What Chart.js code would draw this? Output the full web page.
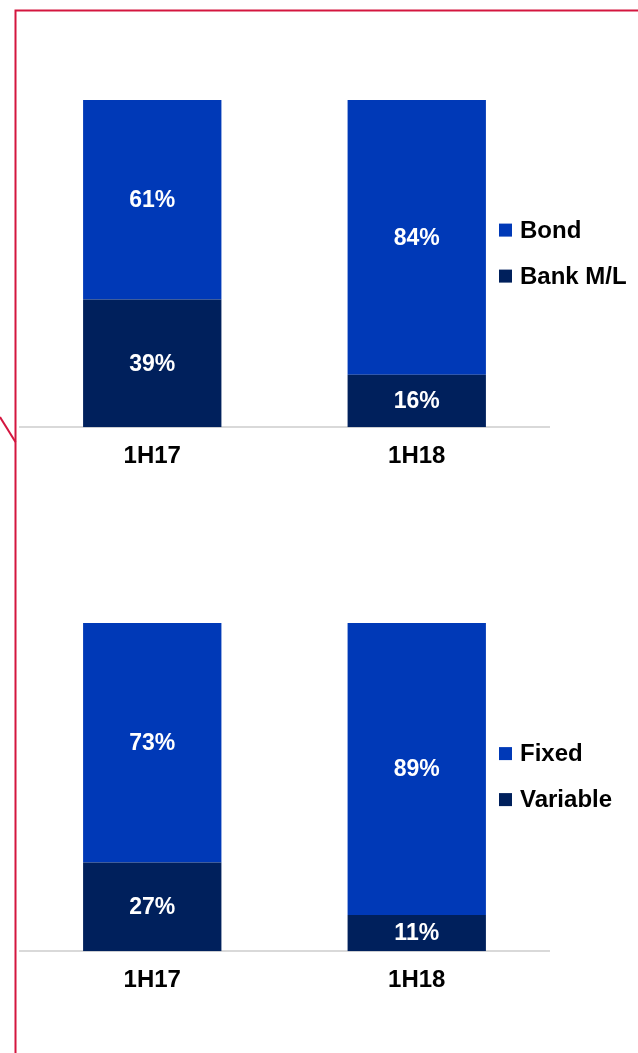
<!DOCTYPE html>
<html>
<head>
<meta charset="utf-8">
<script src="https://cdn.jsdelivr.net/npm/chart.js@4"></script>
<style>
    body { margin: 0; background: #fff; }
    .page { position: relative; width: 638px; height: 1053px; overflow: hidden; }
    .box { position: absolute; left: 0; width: 638px; }
    #frame { position: absolute; left: 0; top: 0; }
</style>
</head>
<body>
<div class="page">
    <svg id="frame" width="638" height="1053">
        <polyline points="638,10.5 15.5,10.5 15.5,1053" fill="none" stroke="#d4163f" stroke-width="2"/>
        <line x1="0" y1="417" x2="15.5" y2="442" stroke="#d4163f" stroke-width="2"/>
    </svg>
    <div class="box" style="top:0;height:520px"><canvas id="funding-chart"></canvas></div>
    <div class="box" style="top:520px;height:533px"><canvas id="rate-chart"></canvas></div>
</div>
<script>
const categories = ['1H17', '1H18'];

const bondShare = [61, 84];
const bankShare = [39, 16];

const fixedShare = [73, 89];
const variableShare = [27, 11];

const LIGHT = '#0039b7';
const DARK = '#00205c';
const FONT = 'Liberation Sans, Arial, sans-serif';

// white % labels centred in each stacked segment
const segmentLabels = {
    id: 'segmentLabels',
    afterDatasetsDraw(chart) {
        const ctx = chart.ctx;
        ctx.save();
        ctx.fillStyle = '#ffffff';
        ctx.font = 'bold 23px ' + FONT;
        ctx.textAlign = 'center';
        ctx.textBaseline = 'middle';
        chart.data.datasets.forEach((ds, i) => {
            chart.getDatasetMeta(i).data.forEach((bar, j) => {
                const mid = (bar.y + bar.base) / 2;
                ctx.fillText(ds.data[j] + '%', bar.x, mid + 1);
            });
        });
        ctx.restore();
    }
};

// legend sits partly over the plot area, so it is drawn by hand
const sideLegend = {
    id: 'sideLegend',
    afterDraw(chart) {
        const ctx = chart.ctx;
        const area = chart.chartArea;
        const items = chart.data.datasets.slice().reverse();
        const gap = 46;
        const startY = (area.top + area.bottom) / 2 - 10.5 - gap / 2;
        ctx.save();
        ctx.font = 'bold 24px ' + FONT;
        ctx.textBaseline = 'middle';
        ctx.textAlign = 'left';
        items.forEach((ds, i) => {
            const y = startY + i * gap;
            ctx.fillStyle = ds.backgroundColor;
            ctx.fillRect(499, y - 6.5, 13, 13);
            ctx.fillStyle = '#000000';
            ctx.fillText(ds.label, 520, y + 1);
        });
        ctx.restore();
    }
};

function createChart(canvasId, lower, upper, topPad, bottomPad) {
    const ctx = document.getElementById(canvasId).getContext('2d');

    return new Chart(ctx, {
        type: 'bar',
        data: {
            labels: categories,
            datasets: [
                { label: lower.label, data: lower.values, backgroundColor: DARK },
                { label: upper.label, data: upper.values, backgroundColor: LIGHT }
            ]
        },
        options: {
            responsive: true,
            maintainAspectRatio: false,
            animation: false,
            layout: {
                padding: { top: topPad, bottom: bottomPad, left: 20, right: 89 }
            },
            datasets: {
                bar: { barPercentage: 1, categoryPercentage: 0.523 }
            },
            scales: {
                x: {
                    stacked: true,
                    grid: { display: false },
                    border: { display: true, color: '#d9d9d9', width: 2 },
                    ticks: {
                        color: '#000000',
                        padding: 7,
                        font: { family: FONT, size: 24, weight: 'bold' }
                    }
                },
                y: {
                    stacked: true,
                    display: false,
                    min: 0,
                    max: 100
                }
            },
            plugins: {
                legend: { display: false },
                tooltip: { enabled: false }
            }
        },
        plugins: [segmentLabels, sideLegend]
    });
}

createChart('funding-chart',
    { label: 'Bank M/L', values: bankShare },
    { label: 'Bond', values: bondShare },
    100, 42);

createChart('rate-chart',
    { label: 'Variable', values: variableShare },
    { label: 'Fixed', values: fixedShare },
    103, 51);
</script>
</body>
</html>
